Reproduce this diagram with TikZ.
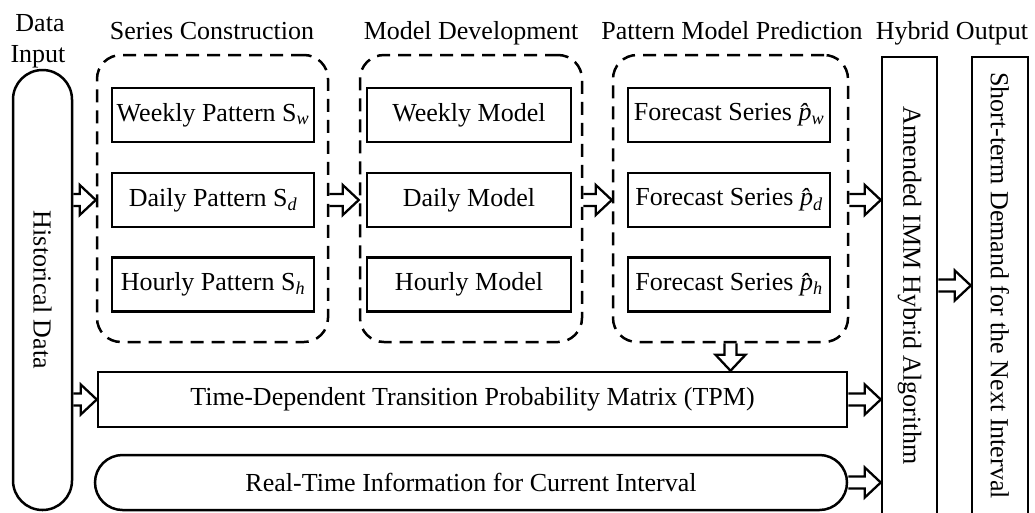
\documentclass[tikz,border=0pt]{standalone}
\usepackage{fontspec}
\setmainfont{Liberation Serif}
\usetikzlibrary{calc}
\newcommand{\phatsub}[1]{{\itshape\^{p}}\textsubscript{\itshape #1}}
\begin{document}
\begin{tikzpicture}[x=1pt,y=-1pt,font=\fontsize{26}{31}\selectfont,
  box/.style={draw, line width=2.5pt, inner sep=0pt, minimum height=54pt},
  grp/.style={draw, line width=2.5pt, dash pattern=on 13pt off 8pt, rounded corners=24pt},
  lbl/.style={inner sep=0pt},
  arrR/.style={line width=2.3pt, line join=miter, to path={let \p1=(\tikztostart), \p2=(\tikztotarget) in
     (\x1,\y1+6pt) -- (\x2-16pt,\y1+6pt) -- (\x2-16pt,\y1+15pt) -- (\x2,\y1) -- (\x2-16pt,\y1-15pt) -- (\x2-16pt,\y1-6pt) -- (\x1,\y1-6pt)}},
  arrD/.style={line width=2.3pt, line join=miter, to path={let \p1=(\tikztostart), \p2=(\tikztotarget) in
     (\x1-6pt,\y1) -- (\x1-6pt,\y2+16pt) -- (\x1-15pt,\y2+16pt) -- (\x1,\y2) -- (\x1+15pt,\y2+16pt) -- (\x1+6pt,\y2+16pt) -- (\x1+6pt,\y1)}}
]
\useasboundingbox (0,0) rectangle (1035,512);
\clip (0,0) rectangle (1035,512);

% headers
\node[lbl, anchor=base] (hdata) at (40,31) {Data};
\node[lbl, anchor=base] (hinput) at (38,62) {Input};
\node[lbl, anchor=base] (hseries) at (212,39) {Series Construction};
\node[lbl, anchor=base] (hmodel) at (471,39) {Model Development};
\node[lbl, anchor=base] (hpred) at (732,39) {Pattern Model Prediction};
\node[lbl, anchor=base] (hhyb) at (952,39) {Hybrid Output};

% historical data
\node[draw, line width=2.5pt, rounded corners=29.5pt, minimum width=59pt, minimum height=440pt] (hist) at (42.5,290) {};
\node[lbl, rotate=-90] (histt) at (hist.center) {Historical Data};

% groups
\node[grp, minimum width=231pt, minimum height=287pt] (g1) at (212.5,198.5) {};
\node[grp, minimum width=222pt, minimum height=287pt] (g2) at (471,198.5) {};
\node[grp, minimum width=235pt, minimum height=287pt] (g3) at (730.5,198.5) {};

\node[box, minimum width=202pt] (w1) at (213,115) {Weekly Pattern S\textsubscript{\itshape w}};
\node[box, minimum width=202pt] (d1) at (213,200) {Daily Pattern S\textsubscript{\itshape d}};
\node[box, minimum width=202pt] (h1) at (213,284.5) {Hourly Pattern S\textsubscript{\itshape h}};

\node[box, minimum width=204pt] (w2) at (469,115) {Weekly Model};
\node[box, minimum width=204pt] (d2) at (469,200) {Daily Model};
\node[box, minimum width=204pt] (h2) at (469,284.5) {Hourly Model};

\node[box, minimum width=202pt] (w3) at (729,115) {Forecast Series \phatsub{w}};
\node[box, minimum width=202pt] (d3) at (729,200) {Forecast Series \phatsub{d}};
\node[box, minimum width=202pt] (h3) at (729,284.5) {Forecast Series \phatsub{h}};

% TPM and real-time
\node[box, minimum width=749pt, minimum height=55pt] (tpm) at (472.5,399.5) {Time-Dependent Transition Probability Matrix (TPM)};
\node[box, rounded corners=27.5pt, minimum width=752pt, minimum height=55pt] (rt) at (471,482.5) {Real-Time Information for Current Interval};

% hybrid
\node[draw, line width=2.5pt, minimum width=55pt, minimum height=457pt] (amend) at (909.5,285.5) {};
\node[lbl, rotate=-90] (amendt) at (amend.center) {Amended IMM Hybrid Algorithm};
\node[draw, line width=2.5pt, minimum width=56pt, minimum height=457pt] (short) at (1000,285.5) {};
\node[lbl, rotate=-90] (shortt) at (short.center) {Short-term Demand for the Next Interval};

% arrows
\draw[arrR] (hist.east |- d1) to (g1.west |- d1);
\draw[arrR] (g1.east |- d1) to (g2.west |- d1);
\draw[arrR] (g2.east |- d1) to (g3.west |- d1);
\draw[arrR] (g3.east |- d1) to (amend.west |- d1);
\draw[arrR] (hist.east |- tpm) to (tpm.west);
\draw[arrR] (tpm.east) to (amend.west |- tpm);
\draw[arrR] (rt.east) to (amend.west |- rt);
\draw[arrR] (amend.east) to (short.west);
\draw[arrD] (g3.south) to (g3.south |- tpm.north);
\end{tikzpicture}
\end{document}
